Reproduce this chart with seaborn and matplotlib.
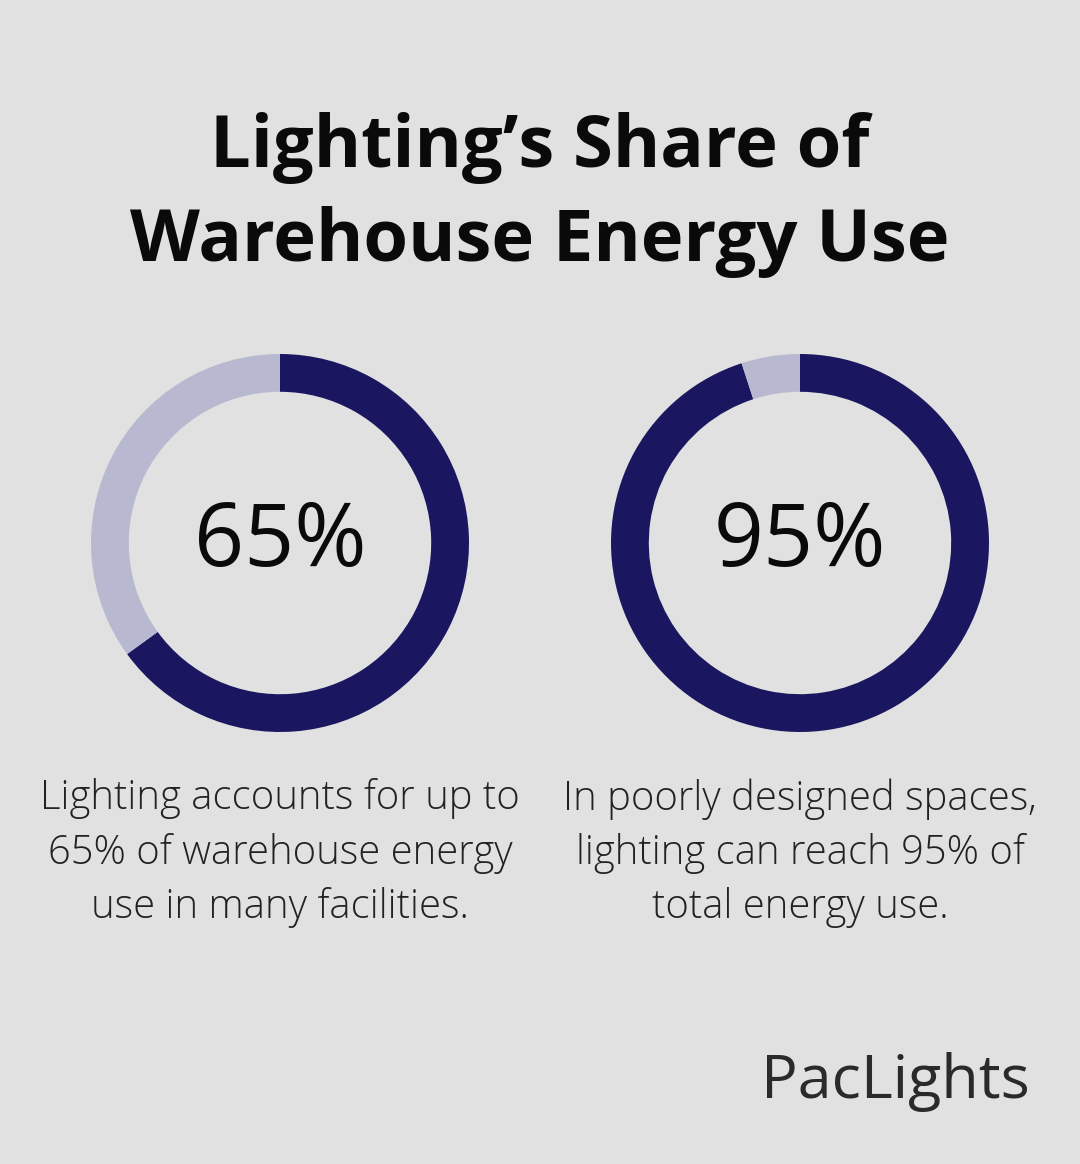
import matplotlib
matplotlib.use("Agg")
import matplotlib.pyplot as plt
import seaborn as sns

# data
shares = [65, 95]
captions = [
    "Lighting accounts for up to\n65% of warehouse energy\nuse in many facilities.",
    "In poorly designed spaces,\nlighting can reach 95% of\ntotal energy use.",
]
title = "Lighting\u2019s Share of\nWarehouse Energy Use"

sns.set_theme(style="white")
plt.rcParams["font.family"] = ["Open Sans", "DejaVu Sans"]

bg = "#e0e1e0"
dark = "#1a1760"
light = "#b8b9d0"

W, H = 1080, 1164
fig = plt.figure(figsize=(W / 100, H / 100), dpi=100, facecolor=bg)

fig.text(0.5, 1 - 195 / H, title, ha="center", va="center", fontsize=52,
         fontweight="bold", color="#0a0a0a", linespacing=1.4)

centers = [280, 800]
R = 189
for cx, val, cap in zip(centers, shares, captions):
    ax = fig.add_axes([(cx - R) / W, (H - 543 - R) / H, 2 * R / W, 2 * R / H])
    ax.set_facecolor(bg)
    ax.pie([val, 100 - val], colors=[dark, light], startangle=90, counterclock=False,
           wedgeprops=dict(width=0.2, linewidth=0), radius=1.0)
    ax.set_xlim(-1, 1)
    ax.set_ylim(-1, 1)
    ax.set_aspect("equal")
    ax.axis("off")
    ax.text(0, 0, f"{val}%", ha="center", va="center", fontsize=63,
            fontweight="medium", color="#0a0a0a")
    fig.text(cx / W, 1 - 853 / H, cap, ha="center", va="center", fontsize=28.8,
             fontweight="light", color="#222222", linespacing=1.42)

fig.text(895 / W, 1 - 1082 / H, "PacLights", ha="center", va="center", fontsize=44,
         fontweight="medium", color="#2a2a2a")

fig.savefig("out.png", dpi=100, facecolor=bg)
